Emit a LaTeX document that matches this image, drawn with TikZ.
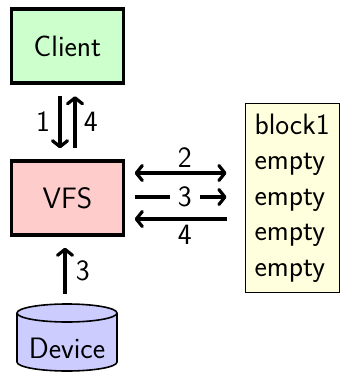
\documentclass[tikz,border=0pt]{standalone}
\usetikzlibrary{calc,arrows.meta}
\begin{document}
\begin{tikzpicture}[x=1pt,y=-1pt,
  every node/.style={font=\sffamily\fontsize{29.5}{35.5}\selectfont},
  box/.style={draw, line width=3.4pt, minimum width=112pt, minimum height=74pt, inner sep=0pt},
  arr/.style={line width=3.2pt, -{Straight Barb[length=6pt,width=15pt,line cap=round,line join=round]}},
  darr/.style={line width=3.2pt, {Straight Barb[length=6pt,width=15pt,line cap=round,line join=round]}-{Straight Barb[length=6pt,width=15pt,line cap=round,line join=round]}}]
\useasboundingbox (0,0) rectangle (340,373);
\definecolor{cgreen}{RGB}{204,255,204}
\definecolor{cpink}{RGB}{255,204,204}
\definecolor{cblue}{RGB}{204,204,255}
\definecolor{cyellow}{RGB}{255,255,221}
\node[box, fill=cgreen] (cl) at (67.5,46) {Client};
\node[box, fill=cpink] (vfs) at (67.5,198) {VFS};
\node[draw, line width=1pt, fill=cyellow, align=left, inner xsep=9.5pt, inner ysep=10.5pt, text width=75pt, anchor=west] (blk) at (244.5,198) {block1\\empty\\empty\\empty\\empty};
% cylinder
\fill[cblue] (17,313) -- (17,362) arc[start angle=180, end angle=0, x radius=50, y radius=9] -- (117,313) arc[start angle=0, end angle=-180, x radius=50, y radius=9] -- cycle;
\draw[line width=1.6pt] (17,313) -- (17,362) arc[start angle=180, end angle=0, x radius=50, y radius=9] -- (117,313) arc[start angle=0, end angle=-180, x radius=50, y radius=9] arc[start angle=180, end angle=0, x radius=50, y radius=9];
\node[inner sep=0pt] (dev) at (67,348) {Device};
\coordinate (devtop) at (65,304);
% client <-> vfs
\draw[arr, shorten <=11.5pt, shorten >=11pt] ([xshift=-7.5pt]cl.south) -- node[left=5pt] {1} ([xshift=-7.5pt]vfs.north);
\draw[arr, shorten <=11pt, shorten >=11.5pt] ([xshift=7.5pt]vfs.north) -- node[right=4pt] {4} ([xshift=7.5pt]cl.south);
% device -> vfs
\draw[arr, shorten <=10pt, shorten >=11pt] (devtop) -- node[right=6pt] {3} (devtop |- vfs.south);
% vfs <-> block
\draw[darr, shorten <=9.5pt, shorten >=18pt] ([yshift=25pt]vfs.east) -- node[above=1pt] {2} ([yshift=25pt]vfs.east -| blk.west);
\draw[arr, shorten <=9.5pt, shorten >=18pt] ([yshift=1pt]vfs.east) -- node[fill=white, inner xsep=8pt, inner ysep=0pt] {3} ([yshift=1pt]vfs.east -| blk.west);
\draw[arr, shorten <=18pt, shorten >=9.5pt] ([yshift=-21pt]vfs.east -| blk.west) -- node[below=1pt] {4} ([yshift=-21pt]vfs.east);
\end{tikzpicture}
\end{document}
